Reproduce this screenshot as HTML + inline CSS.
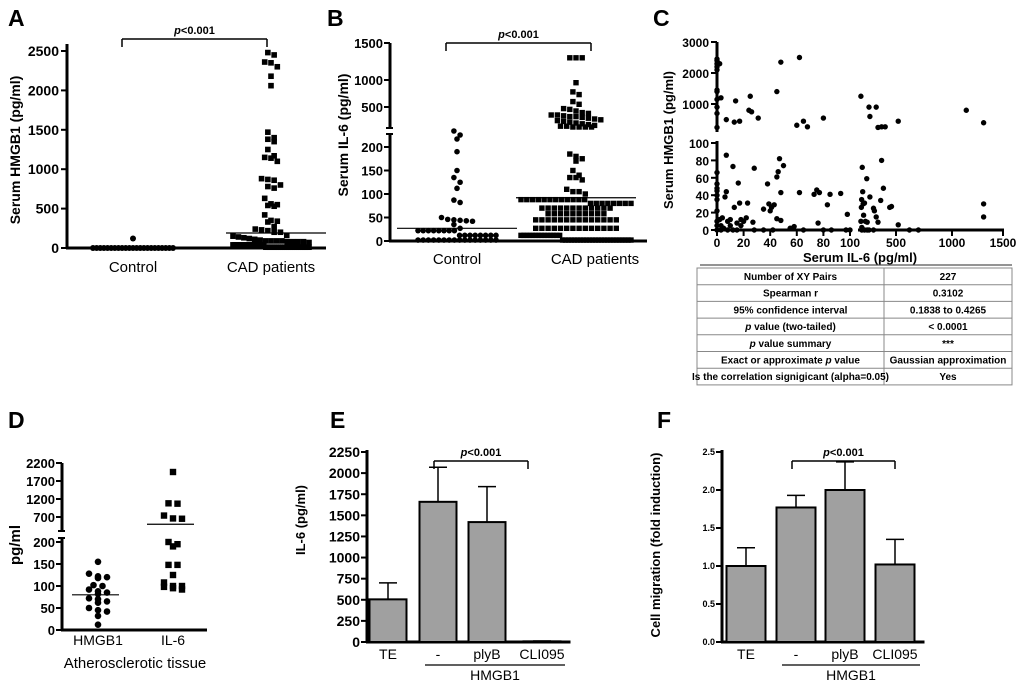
<!DOCTYPE html>
<html><head><meta charset="utf-8"><style>
html,body{margin:0;padding:0;background:#fff;}
svg{display:block;font-family:"Liberation Sans",Arial,sans-serif;}
.b{font-weight:bold;}
</style></head><body>
<svg id="fig" width="1024" height="685" viewBox="0 0 1024 685" xmlns="http://www.w3.org/2000/svg">
<g id="static">
<text x="8" y="26" font-size="23" class="b">A</text>
<text x="327" y="26" font-size="23" class="b">B</text>
<text x="653" y="26" font-size="23" class="b">C</text>
<text x="8" y="428" font-size="23" class="b">D</text>
<text x="330" y="428" font-size="23" class="b">E</text>
<text x="657" y="428" font-size="23" class="b">F</text>
</g>
<g id="dyn"></g>
</svg>
<script>
// ---------- DATA ----------
const aCategories = ["Control","CAD patients"];
const aControl = [0,0,0,0,0,0,0,0,0,0,0,0,0,0,0,0,0,0,0,0,0,0,0,120];
const aCAD = [2480,2450,2360,2350,2300,2180,2060,1470,1400,1380,1350,1250,1170,1150,1140,1100,
 880,870,860,800,780,760,630,560,550,540,530,420,350,330,340,270,240,230,220,200,200,
 90,90,80,80,90,120,140,160,150,130,110,100,90,80,70,80,
 40,40,40,40,40,40,40,40,40,40,40,40,40,40,40,40,
 10,10,10,10,10,10,10,10,10,10,10,10,10,10,10,10,10,10,10,10,10,10];
const aMeans = [0,190];
const aTicks = [0,500,1000,1500,2000,2500];

const bCategories = ["Control","CAD patients"];
const bControl = [240,230,220,190,150,135,125,112,87,82,50,46,45,44,43,42,35,27,22,22,22,22,22,22,22,22,12,12,12,12,12,12,12,12,2,2,2,2,2,2,2,2,2,2,2,2,2,2,2,2];
const bCAD = [1300,1300,1300,950,780,730,600,550,480,470,450,430,420,400,400,390,380,380,370,360,350,340,330,320,310,300,290,280,270,260,260,250,250,250,250,
 185,180,175,170,150,140,135,135,130,110,105,105,100,
 88,88,88,88,88,88,88,88,88,88,88,88,80,80,80,80,80,80,80,80,70,70,70,70,70,70,70,70,70,70,70,70,
 58,58,58,58,58,58,58,58,58,58,45,45,45,45,45,45,45,45,45,45,45,45,45,45,
 27,27,27,27,27,27,27,27,27,27,27,27,27,27,12,12,12,12,12,12,12,12,12,12,12,12,12,12,
 2,2,2,2,2,2,2,2,2,2,2,2,2,2,2,2,2,2,2,2,2,2,2,2];
const bMeans = [27,92];
const bTicksLow = [0,50,100,150,200];
const bTicksHigh = [500,1000,1500];

const cIL6 = [0,0,0,0,0,2,0,0,0,0,0,0,3,7,14,13,17,24,26,25,31,45,48,62,60,65,68,80,110,200,280,210,300,340,380,520,1140,1310,
 0,0,0,0,0,0,0,0,0,0,2,3,4,6,7,7,8,10,12,13,15,16,17,18,20,22,23,27,28,28,35,38,39,40,41,43,45,46,47,48,50,45,48,35,42,55,57,58,62,65,73,75,76,77,80,83,85,86,93,98,97,100,8,12,3,5,15,18,10,
 110,115,118,120,125,130,135,140,150,160,175,180,200,210,250,260,280,300,330,340,360,430,450,520,620,700,1310,1310,120,150,180,250];
const cHMGB1 = [2450,2400,2300,2200,2100,2300,1450,1400,1150,900,700,250,1200,500,1100,420,450,800,750,1250,550,1400,2350,2500,320,450,270,550,1250,900,900,600,250,270,270,450,800,400,
 66,53,48,45,40,35,22,10,5,0,12,5,14,38,44,86,10,5,73,26,0,54,31,12,10,14,31,9,71,0,24,53,30,22,26,29,61,67,82,43,74,13,11,0,0,2,2,4,43,0,41,46,8,43,0,29,41,0,42,18,0,0,0,0,0,2,8,5,12,
 10,26,35,3,72,44,30,17,31,10,59,9,0,38,25,22,15,9,34,80,48,26,27,6,0,0,30,15,0,0,0,0];
const cXTicksLow = [0,20,40,60,80,100];
const cXTicksHigh = [500,1000,1500];
const cYTicksLow = [0,20,40,60,80,100];
const cYTicksHigh = [1000,2000,3000];

const tableLabels = ["Number of XY Pairs","Spearman r","95% confidence interval","p value (two-tailed)","p value summary","Exact or approximate p value","Is the correlation signigicant (alpha=0.05)"];
const tableValues = ["227","0.3102","0.1838 to 0.4265","< 0.0001","***","Gaussian approximation","Yes"];

const dCategories = ["HMGB1","IL-6"];
const dHMGB1 = [155,128,120,118,122,100,102,92,88,85,82,72,70,65,62,50,45,42,32,12];
const dIL6 = [1950,1080,1070,740,640,650,195,190,200,148,148,125,108,100,100,95,92,98];
const dMeans = [80,450];
const dTicksLow = [0,50,100,150,200];
const dTicksHigh = [700,1200,1700,2200];

const eCategories = ["TE","-","plyB","CLI095"];
const eValues = [505,1660,1420,8];
const eErrors = [700,2070,1840,12];
const eTicks = [0,250,500,750,1000,1250,1500,1750,2000,2250];

const fCategories = ["TE","-","plyB","CLI095"];
const fValues = [1.0,1.77,2.0,1.02];
const fErrors = [1.24,1.93,2.37,1.35];
const fTicks = ["0.0","0.5","1.0","1.5","2.0","2.5"];

// ---------- HELPERS ----------
const NS="http://www.w3.org/2000/svg";
const root=document.getElementById('dyn');
function mk(tag,attrs,parent){const e=document.createElementNS(NS,tag);for(const k in attrs)e.setAttribute(k,attrs[k]);(parent||root).appendChild(e);return e;}
function txt(s,x,y,size,anchor,bold,parent){const t=mk('text',{x:x,y:y,'font-size':size,'text-anchor':anchor||'middle'},parent);if(bold)t.setAttribute('font-weight','bold');t.textContent=s;return t;}
function pw(dom,rng){return function(v){for(let i=0;i<dom.length-1;i++){if(v<=dom[i+1]||i===dom.length-2){return rng[i]+(v-dom[i])*(rng[i+1]-rng[i])/(dom[i+1]-dom[i]);}}};}
function line(x1,y1,x2,y2,w,parent){return mk('line',{x1:x1,y1:y1,x2:x2,y2:y2,stroke:'#000','stroke-width':w||2},parent);}
function vtitle(s,x,y,size,parent){const t=txt(s,x,y,size,'middle',true,parent);t.setAttribute('transform','rotate(-90 '+x+' '+y+')');return t;}
// beeswarm: sort values, group by pixel bins, spread horizontally, compress to max width
function swarm(vals,ys,cx,step,bin,maxW){
  const pts=vals.map(v=>({v:v,y:ys(v)})).sort((a,b)=>a.y-b.y);
  const groups=[];let cur=null;
  pts.forEach(p=>{if(cur&&Math.abs(p.y-cur[0].y)<bin)cur.push(p);else{cur=[p];groups.push(cur);}});
  const out=[];groups.forEach(g=>{let s=step;if(g.length>1&&(g.length-1)*s>maxW)s=maxW/(g.length-1);
    g.forEach((p,i)=>{out.push({v:p.v,y:p.y,x:cx+(i-(g.length-1)/2)*s});});});
  return out;
}
function bracket(x1,x2,y,label,g){
  line(x1,y+8,x1,y,1.5,g);line(x1,y,x2,y,1.5,g);line(x2,y,x2,y+8,1.5,g);
  const t=mk('text',{x:(x1+x2)/2,y:y-5,'font-size':11,'text-anchor':'middle','font-weight':'bold'},g);
  const p=mk('tspan',{'font-style':'italic'},t);p.textContent='p';
  const r=mk('tspan',{},t);r.textContent=label;return t;
}

// ---------- PANEL A ----------
(function(){
const g=mk('g',{});


const y=pw([0,2500],[248,51]);
const xs=[133,271];
line(67,44,67,249,3,g);line(66,248,326,248,3,g);
aTicks.forEach(t=>{line(61,y(t),67,y(t),2,g);const l=txt(String(t),59,y(t)+5,14,'end',true,g);

});
aCategories.forEach((c,i)=>{const l=txt(c,xs[i],272,15,'middle',false,g);

});
const yt=vtitle('Serum HMGB1 (pg/ml)',20,150,14,g);


swarm(aControl,y,xs[0],4.2,5,80).forEach(p=>{const c=mk('circle',{cx:p.x,cy:p.y,r:3,fill:'#000'},g);

});
swarm(aCAD,y,xs[1],6.3,6.5,76).forEach(p=>{const r=mk('rect',{x:p.x-2.8,y:p.y-2.8,width:5.6,height:5.6,fill:'#000'},g);

});
aMeans.forEach((m,i)=>{const l=line(xs[i]-45,y(m),xs[i]+55,y(m),1.2,g);

});
const b=bracket(122,267,39,'<0.001',g);


})();

// ---------- PANEL B ----------
(function(){
const g=mk('g',{});


const y=pw([0,200,250,500,1000,1500],[241,147,127,107,80,43]);
const xs=[457,576];
line(390,43,390,128,3,g);line(390,134,390,242,3,g);line(389,241,647,241,3,g);
line(386,128,393,128,2,g);line(386,134,393,134,2,g);
bTicksLow.concat(bTicksHigh).forEach(t=>{line(384,y(t),390,y(t),2,g);const l=txt(String(t),383,y(t)+5,13,'end',true,g);

});
bCategories.forEach((c,i)=>{const l=txt(c,[457,595][i],264,15,'middle',false,g);

});
const yt=vtitle('Serum IL-6 (pg/ml)',348,135,14,g);


swarm(bControl,y,xs[0],6.2,5,78).forEach(p=>{const c=mk('circle',{cx:p.x,cy:p.y,r:2.8,fill:'#000'},g);

});
swarm(bCAD,y,xs[1],6.2,5,110).forEach(p=>{const r=mk('rect',{x:p.x-2.7,y:p.y-2.7,width:5.4,height:5.4,fill:'#000'},g);

});
bMeans.forEach((m,i)=>{const l=line(xs[i]-60,y(m),xs[i]+60,y(m),1.2,g);

});
const b=bracket(446,591,43,'<0.001',g);


})();

// ---------- PANEL C ----------
(function(){
const g=mk('g',{});


const yLow=pw([0,100],[230,143]);
const yHigh=pw([200,1000,2000,3000],[129,104,73,42]);
const xLow=pw([0,100],[717,850]);
const xHigh=pw([100,500,1000,1500],[860,896,952,1003]);
const X=v=>v<=100?xLow(v):xHigh(v);
const Y=v=>v<=100?yLow(v):yHigh(v);
line(717,42,717,132,3,g);line(717,141,717,231,3,g);
line(716,230,852,230,3,g);line(858,230,1004,230,3,g);
cYTicksLow.forEach(t=>{line(711,yLow(t),717,yLow(t),2,g);const l=txt(String(t),709,yLow(t)+5,12,'end',true,g);

});
cYTicksHigh.forEach(t=>{line(711,yHigh(t),717,yHigh(t),2,g);const l=txt(String(t),709,yHigh(t)+5,12,'end',true,g);

});
cXTicksLow.forEach(t=>{line(xLow(t),230,xLow(t),236,2,g);const l=txt(String(t),xLow(t),247,12,'middle',true,g);

});
cXTicksHigh.forEach(t=>{line(xHigh(t),230,xHigh(t),236,2,g);const l=txt(String(t),xHigh(t),247,12,'middle',true,g);

});
const xt=txt('Serum IL-6 (pg/ml)',860,262,13,'middle',true,g);


const yt=vtitle('Serum HMGB1 (pg/ml)',673,140,13,g);


cIL6.forEach((v,i)=>{const c=mk('circle',{cx:X(v),cy:Y(cHMGB1[i]),r:2.7,fill:'#000'},g);

});
// table
const tb=mk('g',{},g);


const top=268,rh=16.7,x0=697,x1=884,x2=1012;
line(700,265,1012,265,1.2,tb).setAttribute('stroke','#555');
mk('rect',{x:x0,y:top,width:x2-x0,height:rh*tableLabels.length,fill:'none',stroke:'#888','stroke-width':1},tb);
line(x1,top,x1,top+rh*tableLabels.length,1,tb).setAttribute('stroke','#888');
tableLabels.forEach((s,i)=>{
 if(i>0){line(x0,top+rh*i,x2,top+rh*i,1,tb).setAttribute('stroke','#888');}
 const ty=top+rh*i+12;
 const t=mk('text',{x:(x0+x1)/2,y:ty,'font-size':10,'text-anchor':'middle','font-weight':'bold'},tb);
 
 
 const parts=s.split(/(\bp\b)/);
 parts.forEach(p=>{if(!p)return;const sp=mk('tspan',p==='p'?{'font-style':'italic'}:{},t);sp.textContent=p;});
 const v=txt(tableValues[i],(x1+x2)/2,ty,10,'middle',true,tb);
 
 
});
})();

// ---------- PANEL D ----------
(function(){
const g=mk('g',{});


const y=pw([0,200,250,700,2200],[630,542,530,517,463]);
const xs=[98,173];
line(62,463,62,531,3,g);line(62,538,62,631,3,g);line(61,630,207,630,3,g);
line(58,531,65,531,2,g);line(58,538,65,538,2,g);
dTicksLow.concat(dTicksHigh).forEach(t=>{line(56,y(t),62,y(t),2,g);const l=txt(String(t),55,y(t)+5,13,'end',true,g);

});
dCategories.forEach((c,i)=>{const l=txt(c,xs[i],645,14,'middle',false,g);

});
const xt=txt('Atherosclerotic tissue',135,668,15,'middle',false,g);


const yt=vtitle('pg/ml',20,545,15,g);


swarm(dHMGB1,y,xs[0],9,4,50).forEach(p=>{const c=mk('circle',{cx:p.x,cy:p.y,r:3.3,fill:'#000'},g);

});
swarm(dIL6,y,xs[1],9,4,50).forEach(p=>{const r=mk('rect',{x:p.x-3.2,y:p.y-3.2,width:6.4,height:6.4,fill:'#000'},g);

});
dMeans.forEach((m,i)=>{const l=line(xs[i]-26,y(m),xs[i]+21,y(m),1.2,g);

});
})();

// ---------- BAR PANELS ----------
function barPanel(name,ax,xs,bw,ticks,tickVals,y,values,errors,cats,title,tickSize,bx1,bx2,brx2,titleY){
const g=mk('g',{});


line(ax,450,ax,643,3,g);line(ax-1,642,xs[3]+bw/2+10,642,3,g);
ticks.forEach((t,i)=>{const v=tickVals[i];line(ax-6,y(v),ax,y(v),2,g);const l=txt(t,ax-7,y(v)+tickSize*0.36,tickSize,'end',true,g);

});
values.forEach((v,i)=>{
 const e=line(xs[i],y(errors[i]),xs[i],y(v),1.5,g);
 
 
 const c=line(xs[i]-9,y(errors[i]),xs[i]+9,y(errors[i]),1.5,g);
 
 
 const r=mk('rect',{x:xs[i]-bw/2,y:y(v),width:bw,height:642-y(v),fill:'#a0a0a0',stroke:'#000','stroke-width':2},g);
 
 
 const l=txt(cats[i],xs[i],659,14,'middle',false,g);
 
 
});
const ul=line(bx1,665,bx2,665,1.2,g);


const hl=txt('HMGB1',(bx1+bx2)/2,680,14,'middle',false,g);


const bk=bracket(xs[1]-4,brx2,461,'<0.001',g);


const yt=vtitle(title,ax-62,titleY,13,g);


}
barPanel('panel-e-il6-bars',367,[388,438,487,542],37,eTicks.map(String),eTicks,pw([0,2250],[642,452]),eValues,eErrors,eCategories,'IL-6 (pg/ml)',14,425,565,528,520);
barPanel('panel-f-migration-bars',722,[746,796,845,895],39,fTicks,fTicks.map(Number),pw([0,2.5],[642,452]),fValues,fErrors,fCategories,'Cell migration (fold induction)',9,782,920,895,545);
</script>
</body></html>
